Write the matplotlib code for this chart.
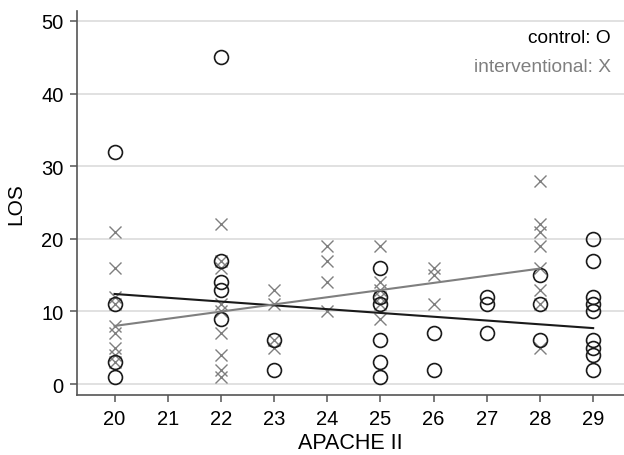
import matplotlib
matplotlib.use("Agg")
import matplotlib.pyplot as plt

plt.rcParams['font.family'] = ['Liberation Sans', 'DejaVu Sans']

# control group (circles): APACHE II score -> LOS values
ctrl_apache = [20, 20, 20, 20,
               22, 22, 22, 22, 22,
               23, 23,
               25, 25, 25, 25, 25, 25,
               26, 26,
               27, 27, 27,
               28, 28, 28,
               29, 29, 29, 29, 29, 29, 29, 29, 29]
ctrl_los = [32, 11, 3, 1,
            45, 17, 14, 13, 9,
            6, 2,
            16, 12, 11, 6, 3, 1,
            7, 2,
            12, 11, 7,
            15, 11, 6,
            20, 17, 12, 11, 10, 6, 5, 4, 2]

# interventional group (crosses)
int_apache = [20, 20, 20, 20, 20, 20, 20, 20, 20,
              22, 22, 22, 22, 22, 22, 22, 22, 22,
              23, 23, 23, 23,
              24, 24, 24, 24,
              25, 25, 25, 25, 25, 25,
              26, 26, 26,
              28, 28, 28, 28, 28, 28, 28, 28]
int_los = [21, 16, 12, 11, 8, 7, 5, 4, 3,
           22, 17, 16, 11, 10, 7, 4, 2, 1,
           13, 11, 6, 5,
           19, 17, 14, 10,
           19, 14, 13, 12, 11, 9,
           16, 15, 11,
           28, 22, 21, 19, 16, 13, 11, 5]

# fitted lines
ctrl_fit_x = [20, 29]
ctrl_fit_y = [12.4, 7.7]
int_fit_x = [20, 28]
int_fit_y = [8.0, 15.9]

x_ticks = list(range(20, 30))
y_ticks = [0, 10, 20, 30, 40, 50]

BLACK = '#1a1a1a'
GREY = '#7f7f7f'

fig = plt.figure(figsize=(6.24, 4.56), dpi=100)
ax = fig.add_axes([0.1239, 0.1322, 0.8761, 0.8421])

for y in y_ticks:
    ax.axhline(y, color='#dcdcdc', lw=1.2, zorder=0)

ax.plot(int_apache, int_los, linestyle='none', marker='x', markersize=8.5,
        mew=1.0, color=GREY, zorder=2)
ax.plot(ctrl_apache, ctrl_los, linestyle='none', marker='o', markersize=10,
        mew=1.2, mfc='none', mec=BLACK, zorder=3)
ax.plot(ctrl_fit_x, ctrl_fit_y, color=BLACK, lw=1.5, zorder=4)
ax.plot(int_fit_x, int_fit_y, color=GREY, lw=1.5, zorder=4)

ax.set_xlim(19.3, 29.58)
ax.set_ylim(-1.47, 51.4)
ax.set_xticks(x_ticks)
ax.set_yticks(y_ticks)

for s in ['top', 'right']:
    ax.spines[s].set_visible(False)
for s in ['left', 'bottom']:
    ax.spines[s].set_color('#555555')
    ax.spines[s].set_linewidth(1.2)
ax.tick_params(length=5, width=1.1, color='#555555', labelsize=14.5,
               labelcolor='#000000')
ax.tick_params(axis='y', pad=5)
ax.tick_params(axis='x', pad=5)

ax.set_xlabel('APACHE II', fontsize=15.5, color='#000000')
ax.set_ylabel('LOS', fontsize=15, color='#000000')
ax.xaxis.set_label_coords(0.5, -0.097)
ax.yaxis.set_label_coords(-0.096, 0.5)

ax.text(0.976, 0.929, 'control: O', transform=ax.transAxes, ha='right',
        va='center', fontsize=13.8, color='#000000')
ax.text(0.976, 0.856, 'interventional: X', transform=ax.transAxes, ha='right',
        va='center', fontsize=13.8, color=GREY)

fig.savefig('out.png', dpi=100)
